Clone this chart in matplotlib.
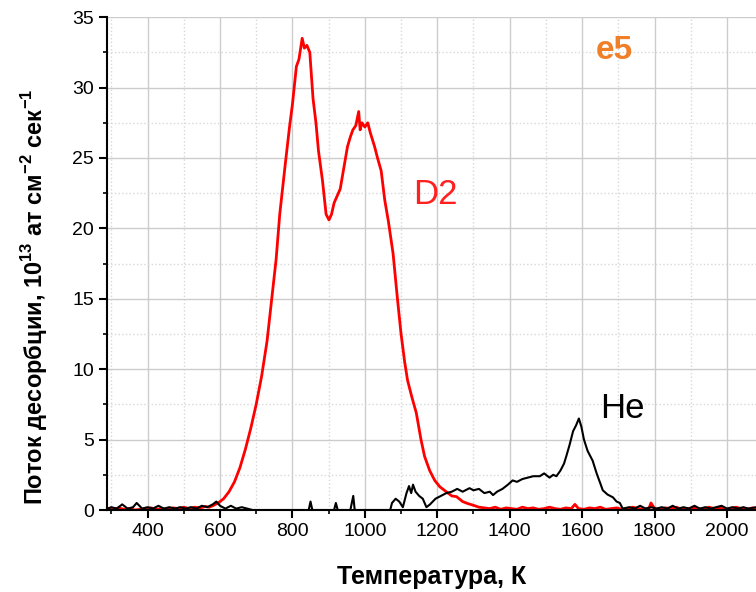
import matplotlib.pyplot as plt
from matplotlib.ticker import MultipleLocator

plt.rcParams['font.family'] = ['Liberation Sans', 'DejaVu Sans']
plt.rcParams['mathtext.fontset'] = 'custom'
plt.rcParams['mathtext.rm'] = 'Liberation Sans:bold'
plt.rcParams['mathtext.bf'] = 'Liberation Sans:bold'

# D2 desorption flux (10^13 at cm^-2 s^-1) vs temperature, K
d2_temp = [290, 305, 320, 335, 350, 365, 380, 395, 410, 425, 440, 455, 470, 485, 500,
           515, 530, 545, 560, 570, 580, 595, 610, 625, 640, 655, 670, 685, 700, 715,
           730, 745, 755, 765, 780, 792, 800, 811, 818, 827, 833, 840, 848, 857, 865,
           872, 883, 893, 901, 908, 915, 925, 932, 940, 952, 960, 967, 975, 983, 987,
           992, 1000, 1008, 1015, 1027, 1035, 1045, 1055, 1065, 1078, 1090, 1100, 1110,
           1118, 1130, 1142, 1155, 1165, 1179, 1193, 1207, 1225, 1240, 1253, 1270, 1285,
           1298, 1315, 1330, 1345, 1360, 1375, 1390, 1405, 1420, 1435, 1450, 1465, 1480,
           1495, 1510, 1525, 1540, 1555, 1570, 1580, 1590, 1605, 1620, 1635, 1650, 1665,
           1680, 1695, 1710, 1725, 1740, 1755, 1770, 1785, 1790, 1800, 1815, 1830, 1845,
           1860, 1875, 1890, 1905, 1920, 1935, 1950, 1965, 1980, 1995, 2010, 2025, 2040,
           2055, 2070, 2080]
d2_flux = [0.1, 0.05, 0.15, 0.05, 0.1, 0.0, 0.05, 0.1, 0.15, 0.05, 0.1, 0.05, 0.15, 0.1, 0.2,
           0.1, 0.2, 0.15, 0.25, 0.2, 0.3, 0.5, 0.8, 1.3, 2.0, 3.0, 4.3, 5.8, 7.5, 9.5,
           12.0, 15.5, 17.8, 21.0, 24.5, 27.2, 28.8, 31.5, 32.0, 33.5, 32.8, 33.0, 32.5, 29.2, 27.5,
           25.5, 23.4, 21.0, 20.6, 21.0, 21.8, 22.4, 22.8, 24.0, 25.8, 26.5, 27.0, 27.3, 28.3, 27.0,
           27.5, 27.2, 27.5, 26.8, 25.8, 25.0, 24.1, 22.0, 20.5, 18.2, 15.0, 12.5, 10.5,
           9.2, 8.0, 6.9, 5.0, 3.8, 2.8, 2.1, 1.65, 1.3, 1.0, 0.95, 0.6, 0.45,
           0.35, 0.2, 0.15, 0.1, 0.2, 0.05, 0.15, 0.1, 0.05, 0.2, 0.1, 0.15, 0.05,
           0.1, 0.2, 0.1, 0.05, 0.15, 0.1, 0.4, 0.1, 0.05, 0.15, 0.1, 0.2, 0.05,
           0.1, 0.15, 0.05, 0.1, 0.2, 0.1, 0.05, 0.15, 0.5, 0.1, 0.05, 0.15, 0.1,
           0.2, 0.05, 0.1, 0.15, 0.1, 0.05, 0.2, 0.1, 0.15, 0.05, 0.1, 0.2, 0.1,
           0.05, 0.15, 0.1]

# He desorption flux
he_temp = [290, 300, 315, 330, 345, 360, 370, 385, 400, 415, 430, 445, 460, 475, 490,
           505, 520, 535, 550, 565, 580, 590, 600, 615, 630, 645, 660, 675, 690, 720,
           760, 800, 845, 850, 855, 900, 915, 920, 925, 960, 968, 972, 1000, 1040, 1070,
           1075, 1085, 1095, 1105, 1115, 1122, 1128, 1133, 1140, 1150, 1160, 1170, 1180,
           1195, 1210, 1225, 1240, 1255, 1270, 1289, 1300, 1315, 1330, 1345, 1354, 1365,
           1380, 1395, 1408, 1420, 1435, 1450, 1465, 1483, 1495, 1510, 1520, 1529, 1540,
           1550, 1556, 1565, 1575, 1583, 1591, 1598, 1605, 1615, 1629, 1640, 1650, 1657,
           1670, 1685, 1695, 1704, 1712, 1730, 1745, 1760, 1775, 1790, 1805, 1820, 1835,
           1850, 1865, 1880, 1895, 1910, 1925, 1940, 1955, 1970, 1985, 2000, 2015, 2030,
           2045, 2060, 2080]
he_flux = [0.1, 0.2, 0.1, 0.4, 0.1, 0.2, 0.5, 0.1, 0.2, 0.1, 0.3, 0.1, 0.2, 0.1, 0.2,
           0.1, 0.2, 0.1, 0.3, 0.2, 0.4, 0.6, 0.3, 0.1, 0.3, 0.1, 0.2, 0.1, 0.0, 0.0,
           0.0, 0.0, 0.0, 0.6, 0.0, 0.0, 0.0, 0.5, 0.0, 0.0, 1.0, 0.0, 0.0, 0.0, 0.0,
           0.5, 0.8, 0.6, 0.2, 1.2, 1.7, 1.2, 1.8, 1.3, 1.0, 0.8, 0.2, 0.4,
           0.8, 1.0, 1.2, 1.3, 1.5, 1.3, 1.55, 1.4, 1.5, 1.2, 1.3, 1.06, 1.3,
           1.5, 1.8, 2.1, 2.0, 2.2, 2.3, 2.4, 2.4, 2.6, 2.3, 2.5, 2.4, 2.8,
           3.3, 3.8, 4.6, 5.6, 6.0, 6.5, 5.9, 5.0, 4.2, 3.5, 2.6, 1.9, 1.4,
           1.1, 0.9, 0.6, 0.5, 0.1, 0.2, 0.1, 0.3, 0.1, 0.2, 0.1, 0.2, 0.1,
           0.3, 0.1, 0.2, 0.1, 0.3, 0.1, 0.2, 0.1, 0.2, 0.3, 0.1, 0.2, 0.1,
           0.2, 0.1, 0.2]

fig = plt.figure(figsize=(7.56, 5.92), dpi=100)
ax = fig.add_axes([0.1415, 0.1385, 0.8585, 0.8325])

ax.plot(he_temp, he_flux, color='black', linewidth=1.5, zorder=3)
ax.plot(d2_temp, d2_flux, color='#ff0000', linewidth=2.0, zorder=2)

ax.set_xlim(288, 2080)
ax.set_ylim(0, 35)
ax.xaxis.set_major_locator(MultipleLocator(200))
ax.xaxis.set_minor_locator(MultipleLocator(100))
ax.yaxis.set_major_locator(MultipleLocator(5))
ax.yaxis.set_minor_locator(MultipleLocator(2.5))

ax.grid(which='major', color='#cccccc', linewidth=1.0, linestyle='-')
ax.grid(which='minor', color='#d8d8d8', linewidth=1.0, linestyle=':')
ax.set_axisbelow(True)

for side in ['top', 'right']:
    ax.spines[side].set_visible(False)
ax.spines['left'].set_linewidth(1.5)
ax.spines['bottom'].set_linewidth(1.5)
ax.tick_params(which='major', direction='out', length=6, width=1.5, labelsize=14)
ax.tick_params(which='minor', direction='out', length=3, width=1.2)

ax.set_xlabel('Температура, К', fontsize=18, fontweight='bold')
ax.xaxis.set_label_coords(0.5, -0.112)
ax.set_ylabel('Поток десорбции, 10$^{13}$ ат см$^{-2}$ сек$^{-1}$',
              fontsize=17, fontweight='bold')
ax.yaxis.set_label_coords(-0.088, 0.432)

ax.text(1690, 32.6, 'e5', color='#f07f2a', fontsize=24, fontweight='bold', ha='center', va='center')
ax.text(1194, 22.4, 'D2', color='#ff2020', fontsize=25, ha='center', va='center')
ax.text(1710, 7.2, 'He', color='black', fontsize=25, ha='center', va='center')

fig.savefig('out.png', dpi=100)
